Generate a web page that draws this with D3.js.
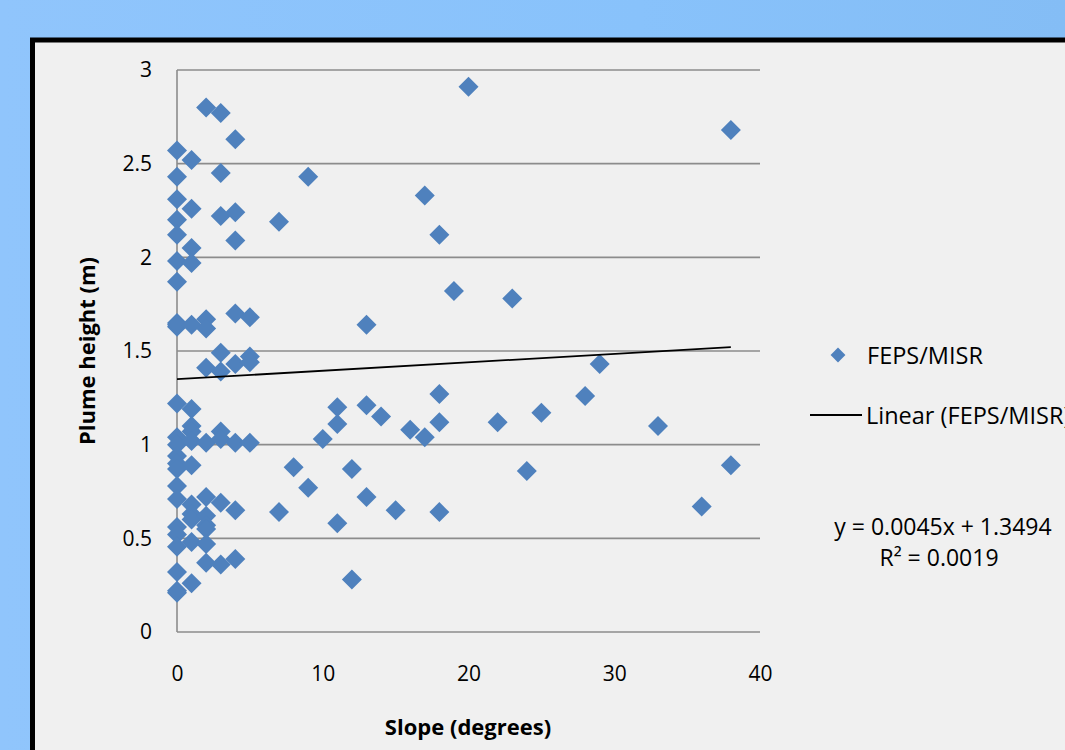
<!DOCTYPE html>
<html>
<head>
<meta charset="utf-8">
<script src="https://cdn.jsdelivr.net/npm/d3@7"></script>
<style>
  html, body { margin: 0; padding: 0; }
  body { width: 1065px; height: 750px; overflow: hidden;
         background: linear-gradient(90deg, #90c5fc 0%, #88c2fb 60%, #84bdf5 100%); }
  svg { display: block; font-family: "Open Sans", "Liberation Sans", sans-serif; }
</style>
</head>
<body>
<div id="chart"></div>
<script>
// FEPS/MISR plume height vs slope
const slopeDeg = [
  20, 38, 9, 7, 17, 18, 19, 23, 13, 29, 28, 18, 11, 13, 14, 11, 10, 16, 17, 18,
  22, 25, 33, 24, 38, 36, 8, 12, 9, 13, 7, 11, 15, 18, 12,
  2, 3, 4, 0, 1, 0, 3, 0, 0, 1, 3, 4, 0, 0, 4, 1, 0, 1, 0,
  0, 0, 1, 2, 2, 4, 5,
  3, 2, 3, 4, 5, 5,
  0, 1, 1, 1, 0, 0, 1, 2, 3, 3, 4, 5, 0, 0, 1,
  0, 0, 0, 2, 3, 4, 1, 1, 1, 2, 2, 2, 0, 0, 1, 2, 0, 2, 3, 4, 0, 0, 0, 1
];
const plumeHeight = [
  2.91, 2.68, 2.43, 2.19, 2.33, 2.12, 1.82, 1.78, 1.64, 1.43, 1.26, 1.27, 1.20, 1.21, 1.15, 1.11, 1.03, 1.08, 1.04, 1.12,
  1.12, 1.17, 1.10, 0.86, 0.89, 0.67, 0.88, 0.87, 0.77, 0.72, 0.64, 0.58, 0.65, 0.64, 0.28,
  2.80, 2.77, 2.63, 2.57, 2.52, 2.43, 2.45, 2.31, 2.20, 2.26, 2.22, 2.24, 2.12, 1.98, 2.09, 2.05, 1.87, 1.97, 1.65,
  1.63, 1.64, 1.64, 1.67, 1.62, 1.70, 1.68,
  1.49, 1.41, 1.39, 1.43, 1.47, 1.44,
  1.22, 1.19, 1.10, 1.07, 1.04, 1.00, 1.02, 1.01, 1.07, 1.03, 1.01, 1.01, 0.94, 0.90, 0.89,
  0.87, 0.78, 0.71, 0.72, 0.69, 0.65, 0.68, 0.63, 0.60, 0.62, 0.57, 0.55, 0.56, 0.52, 0.48, 0.47, 0.455, 0.37, 0.36, 0.39, 0.32, 0.22, 0.21, 0.26
];
const xTicks = [0, 10, 20, 30, 40];
const yTicks = [0, 0.5, 1, 1.5, 2, 2.5, 3];
const trendSlope = 0.0045;
const trendIntercept = 1.3494;
const rSquared = 0.0019;
const seriesName = 'FEPS/MISR';

const width = 1065, height = 750;
const plot = { left: 177, right: 760, top: 70, bottom: 632 };
const markerColor = '#4f81bd';
const gridColor = '#8c8c8c';

const svg = d3.select('#chart').append('svg')
  .attr('width', width)
  .attr('height', height);

// chart frame (runs off the right and bottom)
svg.append('rect')
  .attr('x', 32.5).attr('y', 40)
  .attr('width', 1100).attr('height', 800)
  .attr('fill', '#f0f0f0')
  .attr('stroke', '#000').attr('stroke-width', 5);

const x = d3.scaleLinear().domain([0, 40]).range([plot.left, plot.right]);
const y = d3.scaleLinear().domain([0, 3]).range([plot.bottom, plot.top]);

// gridlines
svg.append('g')
  .selectAll('line')
  .data(yTicks)
  .enter().append('line')
  .attr('x1', plot.left).attr('x2', plot.right)
  .attr('y1', d => y(d)).attr('y2', d => y(d))
  .attr('stroke', gridColor).attr('stroke-width', 1.6);

// y axis line
svg.append('line')
  .attr('x1', plot.left).attr('x2', plot.left)
  .attr('y1', plot.top).attr('y2', plot.bottom)
  .attr('stroke', gridColor).attr('stroke-width', 1.6);

// axes labels via d3 axes with no ticks
const yAxis = svg.append('g')
  .attr('transform', `translate(${plot.left},0)`)
  .call(d3.axisLeft(y).tickValues(yTicks).tickFormat(d3.format('')).tickSize(0).tickPadding(25));
const xAxis = svg.append('g')
  .attr('transform', `translate(0,${plot.bottom})`)
  .call(d3.axisBottom(x).tickValues(xTicks).tickSize(0).tickPadding(34));
[yAxis, xAxis].forEach(g => {
  g.select('.domain').remove();
  g.selectAll('text')
    .attr('fill', '#000')
    .style('font-size', '21px')
    .style('font-family', '"Open Sans", sans-serif');
});

// data points
const points = slopeDeg.map((s, i) => ({ s: s, h: plumeHeight[i] }));
const diamond = d3.symbol().type(d3.symbolSquare).size(200);
svg.append('g')
  .selectAll('path')
  .data(points)
  .enter().append('path')
  .attr('d', diamond)
  .attr('transform', d => `translate(${x(d.s)},${y(d.h)}) rotate(45)`)
  .attr('fill', markerColor);

// linear trendline over data range
const xExtent = d3.extent(slopeDeg);
svg.append('line')
  .attr('x1', x(xExtent[0])).attr('y1', y(trendSlope * xExtent[0] + trendIntercept))
  .attr('x2', x(xExtent[1])).attr('y2', y(trendSlope * xExtent[1] + trendIntercept))
  .attr('stroke', '#000').attr('stroke-width', 1.8);

// axis titles
svg.append('text')
  .attr('transform', `translate(95,${(plot.top + plot.bottom) / 2}) rotate(-90)`)
  .attr('text-anchor', 'middle')
  .style('font-size', '22px').style('font-weight', 'bold')
  .text('Plume height (m)');
svg.append('text')
  .attr('x', 468).attr('y', 735)
  .attr('text-anchor', 'middle')
  .style('font-size', '22px').style('font-weight', 'bold')
  .text('Slope (degrees)');

// legend
const legend = svg.append('g').style('font-size', '23.5px');
legend.append('path')
  .attr('d', d3.symbol().type(d3.symbolSquare).size(110))
  .attr('transform', 'translate(838,355) rotate(45)')
  .attr('fill', markerColor);
legend.append('text').attr('x', 867).attr('y', 364).text(seriesName);
legend.append('line')
  .attr('x1', 810).attr('x2', 862).attr('y1', 415).attr('y2', 415)
  .attr('stroke', '#000').attr('stroke-width', 1.8);
legend.append('text').attr('x', 866).attr('y', 424).text(`Linear (${seriesName})`);

// equation
const eq = svg.append('g').style('font-size', '23px').attr('text-anchor', 'middle');
eq.append('text').attr('x', 943).attr('y', 535)
  .text(`y = ${trendSlope}x + ${trendIntercept}`);
eq.append('text').attr('x', 939).attr('y', 566)
  .text(`R² = ${rSquared}`);
</script>
</body>
</html>
